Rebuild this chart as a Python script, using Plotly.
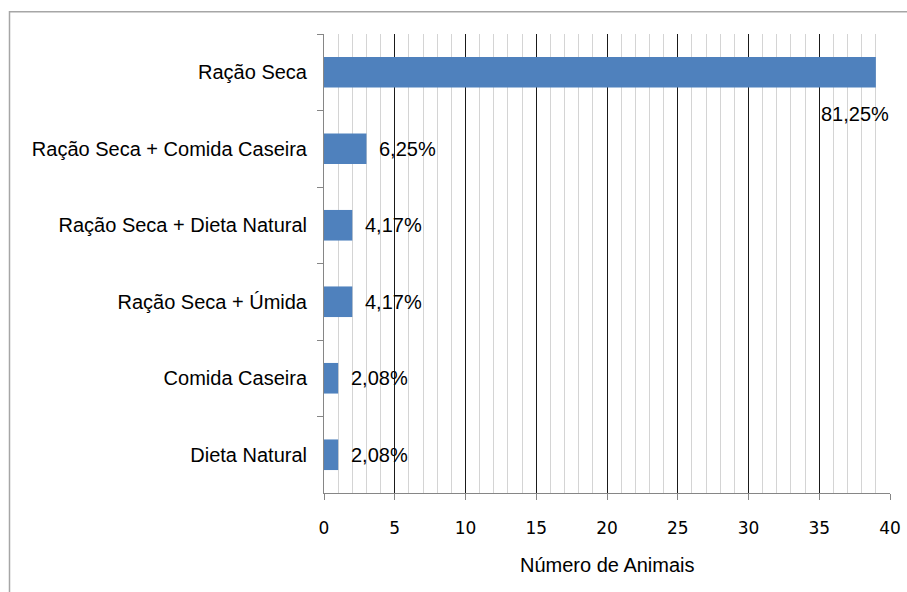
import plotly.graph_objects as go

# Diet categories (top to bottom) and number of animals in each
categories = [
    "Ração Seca",
    "Ração Seca + Comida Caseira",
    "Ração Seca + Dieta Natural",
    "Ração Seca + Úmida",
    "Comida Caseira",
    "Dieta Natural",
]
animals = [39, 3, 2, 2, 1, 1]
x_ticks = [0, 5, 10, 15, 20, 25, 30, 35, 40]

total = sum(animals)
pct_labels = [f"{v / total * 100:.2f}%".replace(".", ",") for v in animals]

W, H = 907, 592
ML, MR, MT, MB = 324, 17, 34, 99
PW, PH = W - ML - MR, H - MT - MB

TEXT_FONT = "Liberation Sans, Arial, sans-serif"
TEXT_SIZE = 20
AXIS_GRAY = "#868686"

fig = go.Figure(
    go.Bar(
        x=animals,
        y=categories,
        orientation="h",
        marker=dict(color="#4f81bd", line=dict(width=0)),
        hoverinfo="x+y",
    )
)

# Percentage labels next to each bar
annotations = []
for i, (cat, val, txt) in enumerate(zip(categories, animals, pct_labels)):
    if i == 0:
        annotations.append(dict(
            x=val, y=cat, text=txt, showarrow=False, xanchor="right",
            yanchor="middle", xshift=15, yshift=-42,
            font=dict(family=TEXT_FONT, size=TEXT_SIZE, color="#000000"),
        ))
    else:
        annotations.append(dict(
            x=val, y=cat, text=txt, showarrow=False, xanchor="left",
            yanchor="middle", xshift=11,
            font=dict(family=TEXT_FONT, size=TEXT_SIZE, color="#000000"),
        ))

# Axis title below the tick labels
annotations.append(dict(
    x=0.5, y=-72 / PH, xref="paper", yref="paper",
    text="Número de Animais", showarrow=False, xanchor="center", yanchor="middle",
    font=dict(family=TEXT_FONT, size=TEXT_SIZE, color="#000000"),
))

fig.update_layout(
    width=W,
    height=H,
    margin=dict(l=ML, r=MR, t=MT, b=MB, pad=0),
    paper_bgcolor="#ffffff",
    plot_bgcolor="#ffffff",
    showlegend=False,
    bargap=0.6,
    annotations=annotations,
    xaxis=dict(
        range=[0, 40],
        tickvals=x_ticks,
        ticktext=[str(t) for t in x_ticks],
        showgrid=True,
        gridcolor="#1a1a1a",
        gridwidth=1,
        minor=dict(dtick=1, showgrid=True, gridcolor="#d4d4d4", gridwidth=1),
        showline=True,
        linecolor=AXIS_GRAY,
        linewidth=1,
        ticks="outside",
        ticklen=6,
        tickcolor=AXIS_GRAY,
        ticklabelstandoff=14,
        tickfont=dict(family="DejaVu Sans, sans-serif", size=17, color="#000000"),
        zeroline=False,
        automargin=False,
        fixedrange=True,
    ),
    yaxis=dict(
        categoryorder="array",
        categoryarray=categories,
        range=[len(categories) - 0.5, -0.5],
        showgrid=False,
        showline=True,
        linecolor=AXIS_GRAY,
        linewidth=1,
        ticks="outside",
        tickson="boundaries",
        ticklen=6,
        tickcolor=AXIS_GRAY,
        ticklabelstandoff=12,
        tickfont=dict(family=TEXT_FONT, size=TEXT_SIZE, color="#000000"),
        zeroline=False,
        automargin=False,
        fixedrange=True,
    ),
    shapes=[
        dict(
            type="rect", xref="paper", yref="paper",
            x0=(9.5 - ML) / PW, x1=(W + 20 - ML) / PW,
            y0=(MT + PH - (H + 20)) / PH, y1=(MT + PH - 11.7) / PH,
            line=dict(color="#a6a6a6", width=1.5),
            fillcolor="rgba(0,0,0,0)", layer="below",
        )
    ],
)

fig.write_html("out.html")
